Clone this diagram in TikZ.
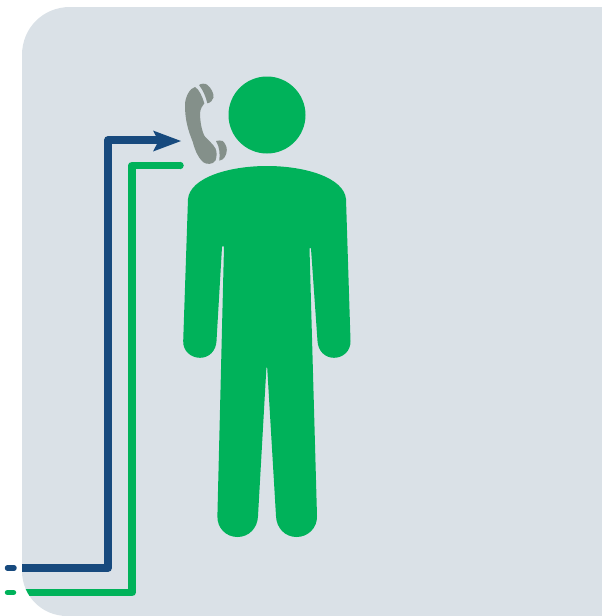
\documentclass[tikz,border=0pt]{standalone}
\definecolor{panelc}{HTML}{DAE1E7}
\definecolor{greenc}{HTML}{00B25A}
\definecolor{bluec}{HTML}{174A7E}
\definecolor{grayc}{HTML}{84908A}
\tikzset{
  wire/.style={line width=7.5pt,line join=round},
  stub/.style={line width=5.5pt,line cap=round},
  phonepart/.style={fill=grayc,draw=none}
}
\begin{document}
\begin{tikzpicture}[x=1pt,y=-1pt]
\useasboundingbox (0,0) rectangle (602,616);
% panel
\fill[panelc] (22,55) .. controls (22,28) and (43,7) .. (70,7) -- (602,7) -- (602,616) -- (67,616) .. controls (42,616) and (22,596) .. (22,571) -- cycle;
% figure
\fill[greenc] (267,115) circle[radius=38.5];
\fill[greenc] (188,199) .. controls (190,178) and (228,166) .. (267,166)
  .. controls (306,166) and (344,178) .. (346,199)
  -- (350.5,341) .. controls (350.8,351) and (343,357.8) .. (334,357.8)
  .. controls (325,357.8) and (318,351) .. (317.5,341)
  -- (311,248.5) .. controls (310.6,247.5) and (309.8,247.5) .. (309.5,248.5)
  -- (317,516) .. controls (317.4,528) and (308,537) .. (296.5,537)
  .. controls (285,537) and (276.4,528) .. (276,516)
  -- (267.2,367.5) .. controls (267,366.6) and (266.6,366.6) .. (266.4,367.5)
  -- (258,516) .. controls (257.6,528) and (249,537) .. (237.5,537)
  .. controls (226,537) and (217,528) .. (217.4,516)
  -- (224,247) .. controls (223.6,245.6) and (222.4,245.6) .. (222,247)
  -- (216.5,341) .. controls (216,351) and (209,357.8) .. (200,357.8)
  .. controls (191,357.8) and (182.8,351) .. (183.2,341)
  -- cycle;
% phone
\fill[phonepart] (195,87) .. controls (190,88) and (185,97) .. (185,105)
  .. controls (185,120) and (188,130) .. (192.7,141.7)
  .. controls (195,150) and (197,156) .. (203,162)
  .. controls (206,164.5) and (213,165) .. (215.5,160.5)
  .. controls (217,156) and (217,152) .. (215.5,148.5)
  .. controls (213,144) and (209,141) .. (205,136.7)
  .. controls (202,132) and (200,122) .. (200,113)
  .. controls (200.5,109) and (202,106) .. (204.3,103.3)
  .. controls (202.5,97) and (199,89) .. (195,87) -- cycle;
\fill[phonepart] (199,85) .. controls (201,83.5) and (205,83) .. (207.5,85)
  .. controls (211,88) and (214,93) .. (213.5,97.5)
  .. controls (213,100.5) and (210,103) .. (207.3,103.3)
  .. controls (206,97) and (203,90) .. (199,85) -- cycle;
\fill[phonepart] (216,141) .. controls (218,140.3) and (221,140.3) .. (222.7,141)
  .. controls (225,143) and (227,147) .. (226.8,150)
  .. controls (226.7,155) and (224,160) .. (219.3,160.7)
  .. controls (220,154) and (219.7,147) .. (216,141) -- cycle;
% connectors
\coordinate (bs) at (22,568);
\coordinate (bc1) at (108,568);
\coordinate (bc2) at (108,140);
\coordinate (be) at (165,140);
\coordinate (gs) at (20,592.5);
\coordinate (gc1) at (132,592.5);
\coordinate (gc2) at (132,165.5);
\coordinate (ge) at (180,165.5);
\draw[wire,bluec] (bs) -- (bc1) -- (bc2) -- (be);
\fill[bluec] (181,141) -- (153,130.5) -- (158.5,141) -- (153,151.5) -- cycle;
\begin{scope}
\clip (22,55) -- (22,571) .. controls (22,596) and (42,616) .. (67,616) -- (602,616) -- (602,7) -- (22,7) -- cycle;
\draw[wire,greenc] (gs) -- (gc1) -- (gc2) -- (ge);
\end{scope}
\fill[greenc] (ge) ++(0,-3.75) arc[start angle=90,end angle=-90,radius=3.75,y radius=-3.75] -- cycle;
\coordinate (d1a) at (7.5,568); \coordinate (d1b) at (14,568);
\coordinate (d2a) at (7.5,592.5); \coordinate (d2b) at (13.5,592.5);
\draw[stub,bluec] (d1a) -- (d1b);
\draw[stub,greenc] (d2a) -- (d2b);
\end{tikzpicture}
\end{document}
